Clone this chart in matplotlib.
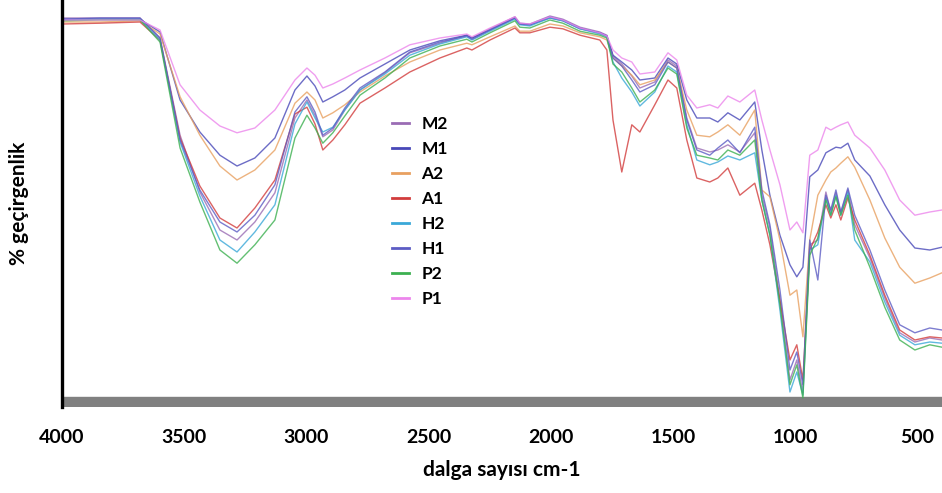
import matplotlib
matplotlib.use("Agg")
import matplotlib.pyplot as plt

# dalga sayisi (cm-1)
wavenumber = [4000, 3845, 3681, 3599, 3517, 3436, 3354, 3284, 3211, 3129,
              3047, 2998, 2965, 2933, 2892, 2843, 2781, 2679, 2577, 2454,
              2344, 2323, 2249, 2147, 2127, 2086, 2004, 1951, 1881, 1800,
              1771, 1746, 1710, 1669, 1636, 1575, 1521, 1485, 1444, 1403,
              1350, 1317, 1276, 1227, 1166, 1137, 1104, 1063, 1022, 994,
              969, 941, 908, 875, 855, 834, 814, 785, 757, 695,
              634, 573, 511, 450, 400]

# % gecirgenlik degerleri
P1 = [95.0, 95.0, 95.0, 92.5, 78.8, 72.5, 68.5, 66.8, 68.0, 72.5,
      80.0, 83.0, 81.2, 78.0, 79.0, 80.5, 82.5, 85.5, 88.8, 90.5,
      91.5, 90.8, 93.0, 95.8, 94.2, 94.0, 95.8, 95.0, 93.0, 91.8,
      91.0, 87.5, 85.5, 84.5, 81.5, 82.0, 86.8, 85.0, 76.2, 73.0,
      73.8, 73.0, 76.0, 74.5, 77.5, 70.0, 62.5, 53.8, 42.5, 44.5,
      41.8, 61.2, 62.5, 68.2, 67.5, 68.2, 68.8, 69.5, 66.2, 63.0,
      57.5, 50.0, 46.2, 47.0, 47.5]
M1 = [95.2, 95.2, 95.2, 92.0, 75.0, 67.0, 61.2, 58.5, 60.5, 65.5,
      77.5, 81.0, 78.5, 74.5, 75.8, 77.5, 80.5, 84.0, 87.5, 89.8,
      91.2, 90.5, 92.5, 95.5, 94.0, 93.8, 95.5, 94.8, 92.8, 91.8,
      91.0, 86.2, 84.5, 82.5, 80.0, 80.5, 85.5, 84.0, 75.0, 70.5,
      70.5, 69.5, 71.8, 70.0, 74.5, 62.5, 51.2, 41.2, 33.8, 30.8,
      33.2, 55.8, 57.5, 61.8, 62.5, 63.2, 63.0, 64.2, 60.0, 56.0,
      48.8, 42.5, 38.0, 37.5, 38.2]
A2 = [94.5, 94.5, 94.8, 91.5, 75.8, 66.2, 58.5, 55.0, 57.5, 62.5,
      74.2, 77.0, 75.0, 70.5, 71.8, 73.8, 77.0, 81.0, 84.5, 87.5,
      89.2, 88.8, 90.8, 93.5, 92.2, 92.2, 94.0, 93.5, 91.8, 90.8,
      90.0, 85.5, 83.5, 81.2, 78.8, 80.0, 84.5, 83.0, 72.5, 66.2,
      65.8, 67.0, 68.8, 66.2, 72.5, 52.5, 50.8, 40.0, 26.2, 27.5,
      15.8, 40.0, 51.2, 55.0, 57.0, 58.0, 59.2, 60.8, 58.2, 50.0,
      40.5, 33.2, 29.2, 30.5, 31.8]
H1 = [95.2, 95.5, 95.5, 90.5, 65.0, 52.5, 44.5, 42.0, 46.2, 53.8,
      72.0, 75.8, 72.0, 66.2, 68.0, 73.0, 78.0, 82.0, 87.0, 89.5,
      91.0, 90.2, 92.5, 95.5, 94.0, 93.8, 95.8, 95.0, 93.0, 91.8,
      91.0, 85.5, 83.5, 80.0, 77.0, 78.8, 84.5, 83.0, 70.0, 62.5,
      61.2, 63.0, 65.0, 61.8, 68.2, 52.5, 43.8, 27.5, 7.5, 12.0,
      3.8, 40.0, 30.0, 51.2, 47.5, 52.5, 47.0, 53.0, 46.2, 37.5,
      27.5, 18.8, 16.8, 18.0, 17.5]
M2 = [95.5, 95.5, 95.5, 90.5, 66.2, 52.0, 42.5, 40.0, 44.5, 51.8,
      70.5, 75.0, 71.2, 65.8, 67.5, 72.5, 77.5, 81.8, 86.8, 89.2,
      91.2, 90.5, 92.8, 95.8, 94.2, 94.0, 96.0, 95.2, 93.2, 92.0,
      91.2, 86.0, 84.0, 81.0, 78.0, 79.5, 85.0, 83.5, 70.5, 63.0,
      62.0, 62.5, 63.8, 62.0, 66.8, 51.2, 43.0, 25.0, 5.0, 10.0,
      1.8, 38.8, 40.0, 52.0, 47.0, 51.8, 46.8, 52.5, 43.8, 35.5,
      25.5, 16.8, 14.5, 15.5, 15.0]
H2 = [95.0, 95.2, 95.2, 90.0, 64.5, 51.0, 40.0, 37.0, 42.0, 48.8,
      69.0, 74.5, 70.5, 67.0, 68.2, 72.5, 77.5, 81.5, 86.2, 89.0,
      90.8, 90.0, 92.2, 95.2, 93.8, 93.5, 95.5, 94.8, 92.8, 91.5,
      90.8, 84.5, 80.5, 77.0, 73.5, 77.0, 83.5, 82.0, 68.8, 60.0,
      58.8, 59.5, 61.0, 60.0, 61.8, 50.0, 41.2, 22.5, 2.0, 7.0,
      1.2, 37.5, 38.8, 50.5, 46.2, 51.2, 46.2, 52.0, 40.0, 34.5,
      24.5, 16.2, 13.8, 14.5, 14.2]
P2 = [94.8, 95.0, 95.0, 89.5, 63.0, 49.5, 37.5, 34.2, 38.8, 45.0,
      65.5, 71.2, 68.0, 64.2, 66.8, 71.0, 76.2, 80.5, 85.5, 88.5,
      90.2, 89.5, 91.8, 94.8, 93.2, 93.0, 95.0, 94.2, 92.2, 91.2,
      90.5, 84.0, 82.0, 78.0, 74.5, 77.5, 83.0, 81.5, 68.0, 61.2,
      60.5, 60.0, 62.5, 61.2, 65.0, 50.0, 41.2, 23.8, 3.8, 8.8,
      0.5, 36.2, 40.5, 50.0, 46.2, 50.8, 46.2, 51.2, 42.5, 33.2,
      23.2, 15.0, 12.5, 13.8, 13.2]
A1 = [94.0, 94.2, 94.5, 90.0, 65.5, 53.5, 45.5, 43.0, 48.0, 55.0,
      71.5, 73.2, 69.0, 62.5, 65.0, 68.8, 74.2, 78.0, 82.0, 85.5,
      88.0, 87.5, 90.0, 93.0, 91.8, 91.8, 93.2, 92.8, 91.2, 90.0,
      87.5, 70.0, 57.0, 68.8, 67.0, 73.8, 80.0, 78.0, 65.0, 55.5,
      54.5, 55.5, 58.0, 51.2, 54.2, 47.5, 38.8, 25.0, 10.0, 13.8,
      5.0, 37.5, 42.0, 48.8, 45.5, 48.8, 45.0, 50.5, 45.0, 36.2,
      26.2, 17.5, 15.0, 15.8, 15.5]

labels = ["M2", "M1", "A2", "A1", "H2", "H1", "P2", "P1"]
series = [M2, M1, A2, A1, H2, H1, P2, P1]
colors = ["#9a6cb4", "#4848b8", "#e8a060", "#d23c3c",
          "#3aa8d8", "#5c5cc4", "#3cb050", "#ec86ec"]
xticks = [4000, 3500, 3000, 2500, 2000, 1500, 1000, 500]

plt.rcParams["font.family"] = ["Lato", "DejaVu Sans"]

fig = plt.figure(figsize=(9.42, 4.93), dpi=100)
ax = fig.add_axes([62 / 942, 1 - 407 / 493, 880 / 942, 407 / 493])

for lab, vals, col in zip(labels, series, colors):
    ax.plot(wavenumber, vals, color=col, lw=1.0, alpha=0.8, label=lab)

# alttaki gri bant
ax.axhspan(-1.75, 0.75, color="#808080", zorder=0)

ax.set_xlim(4000, 400)
ax.set_ylim(-1.75, 100)
ax.set_xticks(xticks)
ax.set_xticklabels([str(t) for t in xticks], fontsize=14, fontweight="bold")
ax.tick_params(axis="x", length=0, pad=16)
ax.set_yticks([])

for s in ["top", "right", "bottom"]:
    ax.spines[s].set_visible(False)
ax.spines["left"].set_linewidth(2.4)
ax.spines["left"].set_color("black")

ax.set_xlabel("dalga sayısı cm-1", fontsize=15, fontweight="bold", labelpad=10)
ax.set_ylabel("% geçirgenlik", fontsize=15, fontweight="bold", labelpad=24)

leg = ax.legend(loc="upper left", bbox_to_anchor=(0.365, 0.737), frameon=False,
                fontsize=12.5, handlelength=1.0, handletextpad=0.7,
                labelspacing=0.52, borderpad=0)
for t in leg.get_texts():
    t.set_fontweight("bold")
for h in leg.get_lines():
    h.set_linewidth(2.0)
    h.set_alpha(1.0)

fig.savefig("out.png", dpi=100)
